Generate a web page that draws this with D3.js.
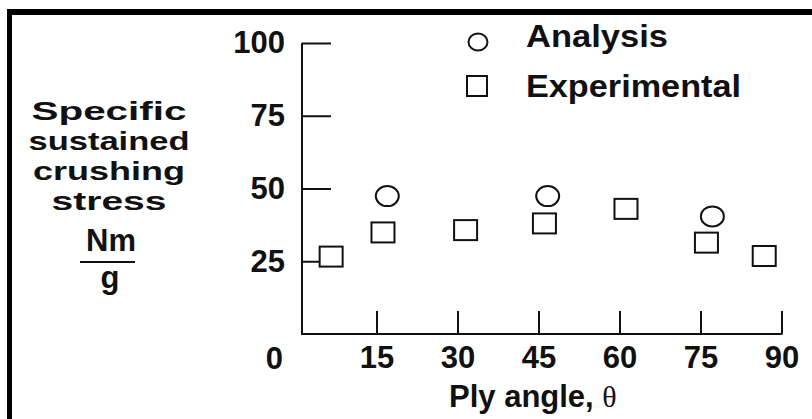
<!DOCTYPE html>
<html>
<head>
<meta charset="utf-8">
<script src="https://cdn.jsdelivr.net/npm/d3@7"></script>
<style>
  html, body { margin: 0; padding: 0; background: #fff; }
  svg { display: block; }
  text { font-family: "Liberation Sans", Arial, Helvetica, sans-serif; font-weight: bold; fill: #111; }
</style>
</head>
<body>
<svg id="chart" width="812" height="419"></svg>
<script>
// ---- data ----
const analysisAngle  = [17.0, 46.7, 77.2];
const analysisStress = [47.4, 47.4, 40.4];
const expAngle  = [6.6, 16.2, 31.5, 46.1, 61.2, 76.1, 86.8];
const expStress = [26.6, 34.9, 35.7, 38.0, 43.0, 31.4, 26.8];
const xTickValues = [15, 30, 45, 60, 75, 90];
const yTickValues = [25, 50, 75, 100];
const legendLabels = ["Analysis", "Experimental"];
const yTitleLines = ["Specific", "sustained", "crushing", "stress"];
const yUnitTop = "Nm";
const yUnitBottom = "g";
const xTitle = "Ply angle, ";
const xTitleSymbol = "θ";
const originLabel = "0";

// ---- layout ----
const svg = d3.select("#chart");
const x = d3.scaleLinear().domain([0, 90]).range([295.5, 781.5]);
const y = d3.scaleLinear().domain([0, 100]).range([334, 43]);
const axisX = 302;      // where the vertical axis sits
const stroke = "#111";

// frame (top and left heavy bars)
svg.append("rect").attr("x", 7).attr("y", 9).attr("width", 805).attr("height", 6).attr("fill", "#000");
svg.append("rect").attr("x", 7).attr("y", 9).attr("width", 5).attr("height", 410).attr("fill", "#000");

// y axis
const gy = svg.append("g").attr("transform", `translate(${axisX},0)`)
  .call(d3.axisLeft(y).tickValues(yTickValues).tickSizeInner(-29).tickSizeOuter(0).tickPadding(17)
        .tickFormat(d3.format("d")));
gy.select(".domain").attr("stroke", stroke).attr("stroke-width", 2)
  .attr("d", `M0,${y(100)}V${y(0)}`);
gy.selectAll(".tick line").attr("stroke", stroke).attr("stroke-width", 2);
gy.selectAll(".tick text").style("font-size", "31px").style("font-weight", "bold")
  .attr("fill", "#111").attr("font-family", null);

// x axis
const gx = svg.append("g").attr("transform", `translate(0,${y(0)})`)
  .call(d3.axisBottom(x).tickValues(xTickValues).tickSizeInner(-23).tickSizeOuter(0).tickPadding(12)
        .tickFormat(d3.format("d")));
gx.select(".domain").attr("stroke", stroke).attr("stroke-width", 2)
  .attr("d", `M${axisX - 1},0H${x(90) + 1}`);
gx.selectAll(".tick line").attr("stroke", stroke).attr("stroke-width", 2);
gx.selectAll(".tick text").style("font-size", "31px").style("font-weight", "bold")
  .attr("fill", "#111").attr("font-family", null);

// origin label
svg.append("text").attr("x", 283).attr("y", 369).attr("text-anchor", "end")
  .style("font-size", "31px").text(originLabel);

// experimental squares
const sqW = 23, sqH = 20;
svg.append("g").selectAll("rect").data(expAngle.map((a, i) => [a, expStress[i]])).join("rect")
  .attr("x", d => x(d[0]) - sqW / 2).attr("y", d => y(d[1]) - sqH / 2)
  .attr("width", sqW).attr("height", sqH)
  .attr("fill", "#fff").attr("stroke", stroke).attr("stroke-width", 2);

// analysis circles
svg.append("g").selectAll("ellipse").data(analysisAngle.map((a, i) => [a, analysisStress[i]])).join("ellipse")
  .attr("cx", d => x(d[0])).attr("cy", d => y(d[1]))
  .attr("rx", 11.5).attr("ry", 10)
  .attr("fill", "#fff").attr("stroke", stroke).attr("stroke-width", 2);

// legend
svg.append("ellipse").attr("cx", 478).attr("cy", 42).attr("rx", 9.5).attr("ry", 8.5)
  .attr("fill", "none").attr("stroke", stroke).attr("stroke-width", 2);
svg.append("rect").attr("x", 467).attr("y", 76).attr("width", 20).attr("height", 20)
  .attr("fill", "none").attr("stroke", stroke).attr("stroke-width", 2);
const legendWidths = [142, 215];
const legendBase = [47, 97];
legendLabels.forEach((t, i) => {
  svg.append("text").attr("x", 526).attr("y", legendBase[i])
    .attr("textLength", legendWidths[i]).attr("lengthAdjust", "spacingAndGlyphs")
    .style("font-size", "31px").text(t);
});

// y title (stacked lines)
const yTitleWidths = [155, 161, 152, 115];
const yTitleBase = [120, 150, 180, 210];
yTitleLines.forEach((t, i) => {
  svg.append("text").attr("x", 109 - yTitleWidths[i] / 2).attr("y", yTitleBase[i])
    .attr("textLength", yTitleWidths[i]).attr("lengthAdjust", "spacingAndGlyphs")
    .style("font-size", "26.5px").text(t);
});
// unit as a fraction
svg.append("text").attr("x", 111).attr("y", 251).attr("text-anchor", "middle")
  .style("font-size", "31px").text(yUnitTop);
svg.append("text").attr("x", 110).attr("y", 288).attr("text-anchor", "middle")
  .style("font-size", "31px").text(yUnitBottom);
svg.append("line").attr("x1", 80).attr("x2", 135).attr("y1", 262).attr("y2", 262)
  .attr("stroke", stroke).attr("stroke-width", 2);

// x title
const xt = svg.append("text").attr("x", 449).attr("y", 407).style("font-size", "31px");
xt.append("tspan").text(xTitle);
xt.append("tspan").style("font-family", "'Liberation Serif', 'DejaVu Serif', serif")
  .style("font-weight", "normal").style("font-size", "30px").text(xTitleSymbol);
</script>
</body>
</html>
